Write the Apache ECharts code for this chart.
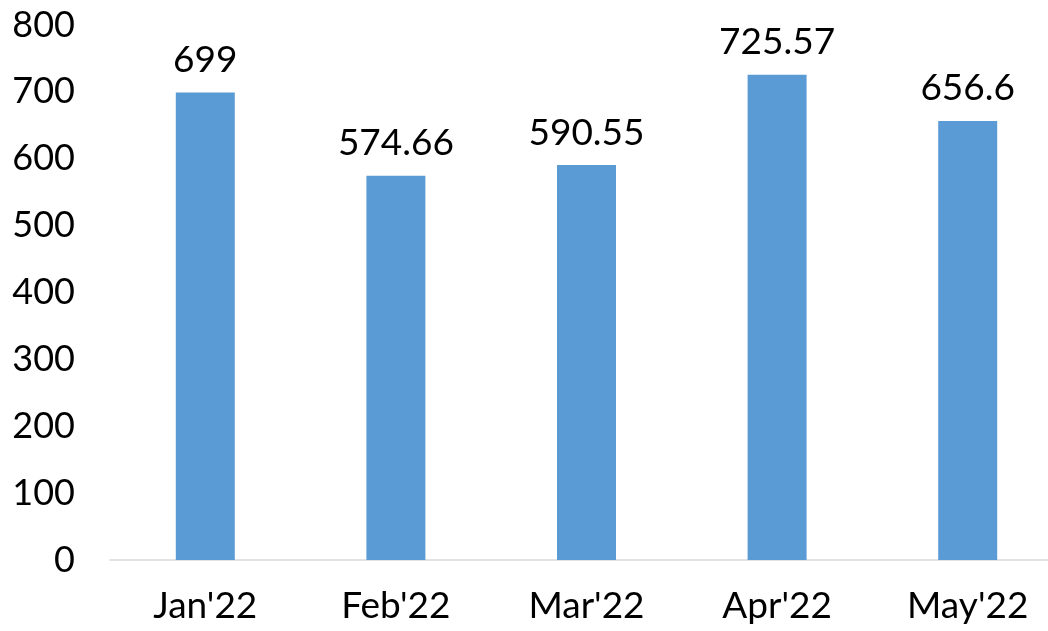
<!DOCTYPE html>
<html>
<head>
<meta charset="utf-8">
<script src="https://cdn.jsdelivr.net/npm/echarts@6/dist/echarts.min.js"></script>
<style>
  html, body { margin: 0; padding: 0; background: #fff; }
  #chart { width: 1048px; height: 631px; }
</style>
</head>
<body>
<div id="chart"></div>
<script>
const months = ["Jan'22", "Feb'22", "Mar'22", "Apr'22", "May'22"]
const values = [699, 574.66, 590.55, 725.57, 656.6]
const yMin = 0
const yMax = 800
const yStep = 100

const chart = echarts.init(document.getElementById('chart'))
const font = 'Lato'
chart.setOption({
  animation: false,
  // plot runs past the right edge, as in the original
  grid: { left: 110, width: 953, top: 25, bottom: 71, outerBoundsMode: 'none' },
  xAxis: {
    type: 'category',
    data: months,
    axisLine: { lineStyle: { color: '#d9d9d9', width: 1.5 } },
    axisTick: { show: false },
    axisLabel: { color: '#000', fontSize: 37, fontFamily: font, margin: 28 }
  },
  yAxis: {
    type: 'value',
    min: yMin,
    max: yMax,
    interval: yStep,
    splitLine: { show: false },
    axisLine: { show: false },
    axisTick: { show: false },
    axisLabel: { color: '#000', fontSize: 36, fontFamily: font, margin: 35 }
  },
  series: [{
    type: 'bar',
    data: values,
    barWidth: 59,
    itemStyle: { color: '#5b9bd5' },
    label: {
      show: true,
      position: 'top',
      distance: 14,
      color: '#000',
      fontSize: 37,
      fontFamily: font
    }
  }]
})
</script>
</body>
</html>
